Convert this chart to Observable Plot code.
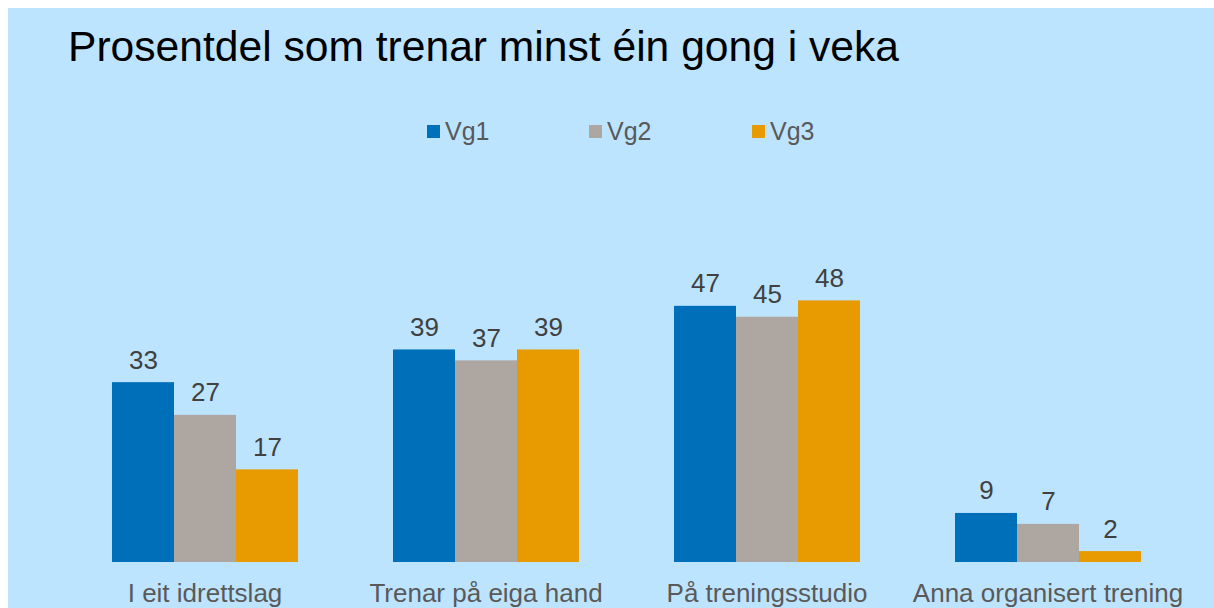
<!DOCTYPE html>
<html>
<head>
<meta charset="utf-8">
<script src="https://cdn.jsdelivr.net/npm/d3@7"></script>
<script src="https://cdn.jsdelivr.net/npm/@observablehq/plot@0.6"></script>
<style>
  html, body { margin: 0; padding: 0; background: #ffffff; width: 1214px; height: 608px; overflow: hidden; }
  body { font-family: "Liberation Sans", Arial, sans-serif; position: relative; }
  #bg { position: absolute; left: 8px; top: 8px; width: 1206px; height: 600px; background: #BDE4FF; }
  #title { position: absolute; left: 68px; top: 21px; font-size: 42.6px; line-height: 50px; color: #000; white-space: nowrap; }
  .leg { position: absolute; top: 116px; font-size: 25px; line-height: 30px; color: #595959; white-space: nowrap; }
  .leg .sw { position: absolute; width: 13px; height: 13px; top: 9px; left: 0; }
  .leg .lbl { position: absolute; left: 18px; top: 0; }
  #chart { position: absolute; left: 0; top: 0; }
</style>
</head>
<body>
<div id="bg"></div>
<div id="title">Prosentdel som trenar minst éin gong i veka</div>
<div id="legend"></div>
<div id="chart"></div>
<script>
const categories = ["I eit idrettslag", "Trenar på eiga hand", "På treningsstudio", "Anna organisert trening"];
const series = ["Vg1", "Vg2", "Vg3"];
const vg1 = [33, 39, 47, 9];
const vg2 = [27, 37, 45, 7];
const vg3 = [17, 39, 48, 2];
const colors = ["#006FBA", "#ADA6A1", "#E89B00"];
const title = "Prosentdel som trenar minst éin gong i veka";

const values = [vg1, vg2, vg3];
const data = [];
categories.forEach((c, i) => {
  series.forEach((s, j) => {
    data.push({category: c, series: s, value: values[j][i]});
  });
});

// legend
const legendX = [427, 589, 752];
const legend = document.getElementById("legend");
series.forEach((s, j) => {
  const item = document.createElement("div");
  item.className = "leg";
  item.style.left = legendX[j] + "px";
  item.innerHTML = `<span class="sw" style="background:${colors[j]}"></span><span class="lbl">${s}</span>`;
  legend.appendChild(item);
});

const chart = Plot.plot({
  width: 1214,
  height: 608,
  marginLeft: 64,
  marginRight: 26,
  marginTop: 17,
  marginBottom: 46,
  style: {background: "transparent", fontFamily: "'Liberation Sans', Arial, sans-serif", overflow: "visible"},
  fx: {domain: categories, paddingInner: 0.335, paddingOuter: 0.1675, label: null},
  x: {domain: series, padding: 0, axis: null},
  y: {domain: [0, 100], axis: null},
  color: {domain: series, range: colors},
  marks: [
    Plot.barY(data, {fx: "category", x: "series", y: "value", fill: "series", inset: 0}),
    Plot.text(data, {fx: "category", x: "series", y: "value", text: d => String(d.value), dy: -14, lineAnchor: "bottom", fontSize: 26, fill: "#404040"}),
    Plot.axisFx({anchor: "bottom", tickSize: 0, tickPadding: 21, fontSize: 26, color: "#595959", label: null})
  ]
});
document.getElementById("chart").appendChild(chart);
</script>
</body>
</html>
